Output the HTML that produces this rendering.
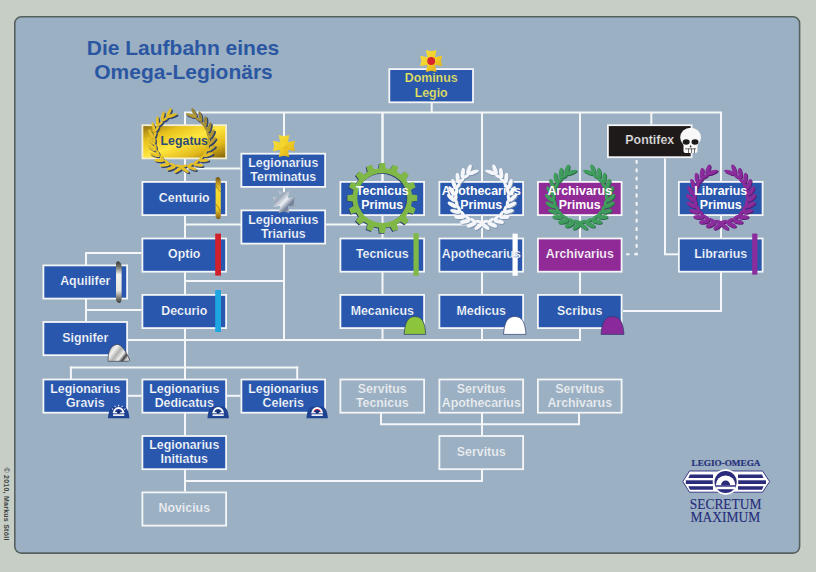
<!DOCTYPE html><html><head><meta charset="utf-8"><style>
html,body{margin:0;padding:0;background:#c6cec5;width:816px;height:572px;overflow:hidden}
svg{display:block}
text{font-family:"Liberation Sans",sans-serif;font-weight:bold;text-anchor:middle}
</style></head><body>
<svg width="816" height="572" viewBox="0 0 816 572">
<defs>
<linearGradient id="gold" x1="0" y1="0" x2="1" y2="1">
<stop offset="0" stop-color="#8a6a10"/><stop offset="0.25" stop-color="#e8c21c"/><stop offset="0.5" stop-color="#ffe640"/><stop offset="0.75" stop-color="#e0b81a"/><stop offset="1" stop-color="#7a5a0a"/>
</linearGradient>
<linearGradient id="goldbar" x1="0" y1="0" x2="0" y2="1">
<stop offset="0" stop-color="#6a5018"/><stop offset="0.12" stop-color="#b08a20"/><stop offset="0.3" stop-color="#f6dc30"/><stop offset="0.75" stop-color="#f0d028"/><stop offset="0.88" stop-color="#b89020"/><stop offset="1" stop-color="#7a5a18"/>
</linearGradient>
<linearGradient id="silverbar" x1="0" y1="0" x2="0" y2="1">
<stop offset="0" stop-color="#3a3a38"/><stop offset="0.14" stop-color="#787670"/><stop offset="0.32" stop-color="#f4f2ee"/><stop offset="0.7" stop-color="#e8e6e0"/><stop offset="0.86" stop-color="#8a8680"/><stop offset="1" stop-color="#3a3a38"/>
</linearGradient>
<linearGradient id="silverdome" x1="0" y1="0" x2="1" y2="0.6">
<stop offset="0" stop-color="#9a9a98"/><stop offset="0.35" stop-color="#f2f2f0"/><stop offset="0.55" stop-color="#b0b0ae"/><stop offset="0.75" stop-color="#f0f0ee"/><stop offset="0.9" stop-color="#404040"/><stop offset="1" stop-color="#d0d0d0"/>
</linearGradient>
<linearGradient id="silvercross" gradientUnits="userSpaceOnUse" x1="273" y1="191" x2="295" y2="213">
<stop offset="0" stop-color="#f4f6f8"/><stop offset="0.3" stop-color="#9aa6b8"/><stop offset="0.5" stop-color="#eef0f4"/><stop offset="0.7" stop-color="#6c7c94"/><stop offset="1" stop-color="#dfe4ea"/>
</linearGradient>
<linearGradient id="goldwreath" gradientUnits="userSpaceOnUse" x1="150" y1="172" x2="216" y2="106">
<stop offset="0" stop-color="#e8c42a"/><stop offset="0.6" stop-color="#e2bc28"/><stop offset="0.85" stop-color="#8a7a3a"/><stop offset="1" stop-color="#4a4a3a"/>
</linearGradient>
<linearGradient id="goldcross" x1="0" y1="0" x2="1" y2="1">
<stop offset="0" stop-color="#f6e040"/><stop offset="0.5" stop-color="#f2d028"/><stop offset="1" stop-color="#d8a818"/>
</linearGradient>
</defs>
<rect width="816" height="572" fill="#c6cec5"/>
<rect x="14.8" y="16.8" width="784.8" height="536.3" rx="6.5" ry="6.5" fill="#9bb0c3" stroke="#56615f" stroke-width="1.6"/>

<text x="183" y="55" font-size="21" fill="#2b56a2">Die Laufbahn eines</text>
<text x="183.5" y="79" font-size="21" fill="#2b56a2">Omega-Legionärs</text>
<line x1="184" y1="112.5" x2="722" y2="112.5" stroke="#f4f6f8" stroke-width="2.0" />
<line x1="185" y1="112.5" x2="185" y2="124.5" stroke="#f4f6f8" stroke-width="2.0" />
<line x1="284" y1="112.5" x2="284" y2="153" stroke="#f4f6f8" stroke-width="2.0" />
<line x1="382.5" y1="112.5" x2="382.5" y2="181.2" stroke="#f4f6f8" stroke-width="2.0" />
<line x1="482" y1="112.5" x2="482" y2="181.2" stroke="#f4f6f8" stroke-width="2.0" />
<line x1="580" y1="112.5" x2="580" y2="181.2" stroke="#f4f6f8" stroke-width="2.0" />
<line x1="651.3" y1="112.5" x2="651.3" y2="124.5" stroke="#f4f6f8" stroke-width="2.0" />
<line x1="721" y1="112.5" x2="721" y2="181.2" stroke="#f4f6f8" stroke-width="2.0" />
<line x1="431.7" y1="102.7" x2="431.7" y2="112.5" stroke="#f4f6f8" stroke-width="2.0" />
<line x1="185" y1="112.5" x2="185" y2="491.6" stroke="#f4f6f8" stroke-width="2.0" />
<line x1="185" y1="168.5" x2="240.5" y2="168.5" stroke="#f4f6f8" stroke-width="2.0" />
<line x1="284" y1="112.5" x2="284" y2="340" stroke="#f4f6f8" stroke-width="2.0" />
<line x1="185" y1="224.5" x2="482" y2="224.5" stroke="#f4f6f8" stroke-width="2.0" />
<line x1="382.5" y1="112.5" x2="382.5" y2="340" stroke="#f4f6f8" stroke-width="2.0" />
<line x1="482" y1="112.5" x2="482" y2="340" stroke="#f4f6f8" stroke-width="2.0" />
<line x1="580" y1="112.5" x2="580" y2="340" stroke="#f4f6f8" stroke-width="2.0" />
<line x1="127.5" y1="340" x2="581" y2="340" stroke="#f4f6f8" stroke-width="2.0" />
<line x1="721" y1="112.5" x2="721" y2="312" stroke="#f4f6f8" stroke-width="2.0" />
<line x1="623" y1="311" x2="722" y2="311" stroke="#f4f6f8" stroke-width="2.0" />
<line x1="665" y1="158.5" x2="665" y2="254.3" stroke="#f4f6f8" stroke-width="2.0" />
<line x1="664" y1="254.3" x2="678" y2="254.3" stroke="#f4f6f8" stroke-width="2.0" />
<line x1="636.6" y1="160" x2="636.6" y2="255.3" stroke="#f4f6f8" stroke-width="2.0" stroke-dasharray="3.8 4.6"/>
<line x1="637.6" y1="254.3" x2="623" y2="254.3" stroke="#f4f6f8" stroke-width="2.0" stroke-dasharray="3.4 4.6"/>
<line x1="86" y1="252" x2="86" y2="321.3" stroke="#f4f6f8" stroke-width="2.0" />
<line x1="85" y1="253" x2="141.5" y2="253" stroke="#f4f6f8" stroke-width="2.0" />
<line x1="86" y1="310" x2="141.5" y2="310" stroke="#f4f6f8" stroke-width="2.0" />
<line x1="185" y1="281" x2="284" y2="281" stroke="#f4f6f8" stroke-width="2.0" />
<line x1="70.9" y1="366.4" x2="70.9" y2="379" stroke="#f4f6f8" stroke-width="2.0" />
<line x1="69.9" y1="367.4" x2="298.2" y2="367.4" stroke="#f4f6f8" stroke-width="2.0" />
<line x1="297.2" y1="366.4" x2="297.2" y2="379" stroke="#f4f6f8" stroke-width="2.0" />
<line x1="127.5" y1="395.8" x2="141.5" y2="395.8" stroke="#f4f6f8" stroke-width="2.0" />
<line x1="227" y1="395.8" x2="240.5" y2="395.8" stroke="#f4f6f8" stroke-width="2.0" />
<line x1="381" y1="413" x2="381" y2="424.3" stroke="#f4f6f8" stroke-width="2.0" />
<line x1="482" y1="413" x2="482" y2="435.2" stroke="#f4f6f8" stroke-width="2.0" />
<line x1="579" y1="413" x2="579" y2="424.3" stroke="#f4f6f8" stroke-width="2.0" />
<line x1="380" y1="424.3" x2="580" y2="424.3" stroke="#f4f6f8" stroke-width="2.0" />
<line x1="482" y1="469.5" x2="482" y2="481" stroke="#f4f6f8" stroke-width="2.0" />
<line x1="185" y1="481" x2="483" y2="481" stroke="#f4f6f8" stroke-width="2.0" />
<rect x="142.40" y="181.90" width="83.70" height="33.20" fill="#2957ad" stroke="#f4f6f8" stroke-width="1.8"/>
<rect x="142.40" y="238.50" width="83.70" height="33.20" fill="#2957ad" stroke="#f4f6f8" stroke-width="1.8"/>
<rect x="142.40" y="294.90" width="83.70" height="33.20" fill="#2957ad" stroke="#f4f6f8" stroke-width="1.8"/>
<rect x="43.40" y="265.40" width="83.70" height="33.20" fill="#2957ad" stroke="#f4f6f8" stroke-width="1.8"/>
<rect x="43.40" y="322.00" width="83.70" height="33.20" fill="#2957ad" stroke="#f4f6f8" stroke-width="1.8"/>
<rect x="241.40" y="153.70" width="83.70" height="33.20" fill="#2957ad" stroke="#f4f6f8" stroke-width="1.8"/>
<rect x="241.40" y="210.40" width="83.70" height="33.20" fill="#2957ad" stroke="#f4f6f8" stroke-width="1.8"/>
<rect x="340.40" y="181.90" width="83.70" height="33.20" fill="#2957ad" stroke="#f4f6f8" stroke-width="1.8"/>
<rect x="340.40" y="238.50" width="83.70" height="33.20" fill="#2957ad" stroke="#f4f6f8" stroke-width="1.8"/>
<rect x="340.40" y="294.90" width="83.70" height="33.20" fill="#2957ad" stroke="#f4f6f8" stroke-width="1.8"/>
<rect x="439.40" y="181.90" width="83.70" height="33.20" fill="#2957ad" stroke="#f4f6f8" stroke-width="1.8"/>
<rect x="439.40" y="238.50" width="83.70" height="33.20" fill="#2957ad" stroke="#f4f6f8" stroke-width="1.8"/>
<rect x="439.40" y="294.90" width="83.70" height="33.20" fill="#2957ad" stroke="#f4f6f8" stroke-width="1.8"/>
<rect x="537.90" y="294.90" width="83.70" height="33.20" fill="#2957ad" stroke="#f4f6f8" stroke-width="1.8"/>
<rect x="678.90" y="181.90" width="83.70" height="33.20" fill="#2957ad" stroke="#f4f6f8" stroke-width="1.8"/>
<rect x="678.90" y="238.50" width="83.70" height="33.20" fill="#2957ad" stroke="#f4f6f8" stroke-width="1.8"/>
<rect x="43.40" y="379.50" width="83.70" height="33.20" fill="#2957ad" stroke="#f4f6f8" stroke-width="1.8"/>
<rect x="142.40" y="379.50" width="83.70" height="33.20" fill="#2957ad" stroke="#f4f6f8" stroke-width="1.8"/>
<rect x="241.40" y="379.50" width="83.70" height="33.20" fill="#2957ad" stroke="#f4f6f8" stroke-width="1.8"/>
<rect x="142.40" y="436.00" width="83.70" height="33.20" fill="#2957ad" stroke="#f4f6f8" stroke-width="1.8"/>
<rect x="537.90" y="181.90" width="83.70" height="33.20" fill="#8f2a96" stroke="#f4f6f8" stroke-width="1.8"/>
<rect x="537.90" y="238.50" width="83.70" height="33.20" fill="#8f2a96" stroke="#f4f6f8" stroke-width="1.8"/>
<rect x="607.90" y="125.20" width="83.70" height="32.00" fill="#1e1a1a" stroke="#f4f6f8" stroke-width="1.8"/>
<rect x="142.40" y="125.20" width="83.70" height="33.20" fill="url(#gold)" stroke="#f4eed0" stroke-width="1.8"/>
<rect x="340.40" y="379.50" width="83.70" height="33.20" fill="none" stroke="#f4f6f8" stroke-width="1.8"/>
<rect x="439.40" y="379.50" width="83.70" height="33.20" fill="none" stroke="#f4f6f8" stroke-width="1.8"/>
<rect x="537.90" y="379.50" width="83.70" height="33.20" fill="none" stroke="#f4f6f8" stroke-width="1.8"/>
<rect x="439.40" y="436.00" width="83.70" height="33.20" fill="none" stroke="#f4f6f8" stroke-width="1.8"/>
<rect x="142.40" y="492.40" width="83.70" height="33.20" fill="none" stroke="#f4f6f8" stroke-width="1.8"/>
<rect x="389.30" y="69.10" width="83.70" height="33.20" fill="#2957ad" stroke="#f4f6f8" stroke-width="1.8"/>
<path d="M375.69,169.57 L378.00,169.21 L378.75,163.91 L384.25,163.91 L385.00,169.21 L387.31,169.57 L389.59,170.12 L392.32,165.51 L397.39,167.61 L396.06,172.80 L398.06,174.02 L399.95,175.40 L404.23,172.19 L408.11,176.07 L404.90,180.35 L406.28,182.24 L407.50,184.24 L412.69,182.91 L414.79,187.98 L410.18,190.71 L410.73,192.99 L411.09,195.30 L416.39,196.05 L416.39,201.55 L411.09,202.30 L410.73,204.61 L410.18,206.89 L414.79,209.62 L412.69,214.69 L407.50,213.36 L406.28,215.36 L404.90,217.25 L408.11,221.53 L404.23,225.41 L399.95,222.20 L398.06,223.58 L396.06,224.80 L397.39,229.99 L392.32,232.09 L389.59,227.48 L387.31,228.03 L385.00,228.39 L384.25,233.69 L378.75,233.69 L378.00,228.39 L375.69,228.03 L373.41,227.48 L370.68,232.09 L365.61,229.99 L366.94,224.80 L364.94,223.58 L363.05,222.20 L358.77,225.41 L354.89,221.53 L358.10,217.25 L356.72,215.36 L355.50,213.36 L350.31,214.69 L348.21,209.62 L352.82,206.89 L352.27,204.61 L351.91,202.30 L346.61,201.55 L346.61,196.05 L351.91,195.30 L352.27,192.99 L352.82,190.71 L348.21,187.98 L350.31,182.91 L355.50,184.24 L356.72,182.24 L358.10,180.35 L354.89,176.07 L358.77,172.19 L363.05,175.40 L364.94,174.02 L366.94,172.80 L365.61,167.61 L370.68,165.51 L373.41,170.12Z M356.50,198.80 a25.0,25.0 0 1,0 50.00,0 a25.0,25.0 0 1,0 -50.00,0Z" fill="#2e4070" fill-rule="evenodd"/>
<path d="M376.49,168.77 L378.80,168.41 L379.55,163.11 L385.05,163.11 L385.80,168.41 L388.11,168.77 L390.39,169.32 L393.12,164.71 L398.19,166.81 L396.86,172.00 L398.86,173.22 L400.75,174.60 L405.03,171.39 L408.91,175.27 L405.70,179.55 L407.08,181.44 L408.30,183.44 L413.49,182.11 L415.59,187.18 L410.98,189.91 L411.53,192.19 L411.89,194.50 L417.19,195.25 L417.19,200.75 L411.89,201.50 L411.53,203.81 L410.98,206.09 L415.59,208.82 L413.49,213.89 L408.30,212.56 L407.08,214.56 L405.70,216.45 L408.91,220.73 L405.03,224.61 L400.75,221.40 L398.86,222.78 L396.86,224.00 L398.19,229.19 L393.12,231.29 L390.39,226.68 L388.11,227.23 L385.80,227.59 L385.05,232.89 L379.55,232.89 L378.80,227.59 L376.49,227.23 L374.21,226.68 L371.48,231.29 L366.41,229.19 L367.74,224.00 L365.74,222.78 L363.85,221.40 L359.57,224.61 L355.69,220.73 L358.90,216.45 L357.52,214.56 L356.30,212.56 L351.11,213.89 L349.01,208.82 L353.62,206.09 L353.07,203.81 L352.71,201.50 L347.41,200.75 L347.41,195.25 L352.71,194.50 L353.07,192.19 L353.62,189.91 L349.01,187.18 L351.11,182.11 L356.30,183.44 L357.52,181.44 L358.90,179.55 L355.69,175.27 L359.57,171.39 L363.85,174.60 L365.74,173.22 L367.74,172.00 L366.41,166.81 L371.48,164.71 L374.21,169.32Z M357.30,198.00 a25.0,25.0 0 1,0 50.00,0 a25.0,25.0 0 1,0 -50.00,0Z" fill="#80b848" fill-rule="evenodd"/>
<g fill="#7f93b0"><ellipse cx="469.79" cy="170.31" rx="5.25" ry="2.00" transform="rotate(-68.0 469.79 170.31)"/><ellipse cx="471.49" cy="174.39" rx="3.75" ry="1.60" transform="rotate(-12.0 471.49 174.39)"/><ellipse cx="463.61" cy="173.98" rx="5.25" ry="2.00" transform="rotate(-81.5 463.61 173.98)"/><ellipse cx="466.22" cy="177.56" rx="3.75" ry="1.60" transform="rotate(-25.5 466.22 177.56)"/><ellipse cx="458.49" cy="178.96" rx="5.25" ry="2.00" transform="rotate(-95.2 458.49 178.96)"/><ellipse cx="461.87" cy="181.82" rx="3.75" ry="1.60" transform="rotate(-39.2 461.87 181.82)"/><ellipse cx="454.70" cy="184.97" rx="5.25" ry="2.00" transform="rotate(-109.1 454.70 184.97)"/><ellipse cx="458.67" cy="186.94" rx="3.75" ry="1.60" transform="rotate(-53.1 458.67 186.94)"/><ellipse cx="452.47" cy="191.70" rx="5.25" ry="2.00" transform="rotate(-123.1 452.47 191.70)"/><ellipse cx="456.79" cy="192.64" rx="3.75" ry="1.60" transform="rotate(-67.1 456.79 192.64)"/><ellipse cx="451.93" cy="198.76" rx="5.25" ry="2.00" transform="rotate(-137.1 451.93 198.76)"/><ellipse cx="456.36" cy="198.63" rx="3.75" ry="1.60" transform="rotate(-81.1 456.36 198.63)"/><ellipse cx="453.14" cy="205.75" rx="5.25" ry="2.00" transform="rotate(-151.1 453.14 205.75)"/><ellipse cx="457.40" cy="204.56" rx="3.75" ry="1.60" transform="rotate(-95.1 457.40 204.56)"/><ellipse cx="456.01" cy="212.28" rx="5.25" ry="2.00" transform="rotate(-164.9 456.01 212.28)"/><ellipse cx="459.86" cy="210.10" rx="3.75" ry="1.60" transform="rotate(-108.9 459.86 210.10)"/><ellipse cx="460.38" cy="217.95" rx="5.25" ry="2.00" transform="rotate(-178.4 460.38 217.95)"/><ellipse cx="463.62" cy="214.93" rx="3.75" ry="1.60" transform="rotate(-122.4 463.62 214.93)"/><ellipse cx="466.00" cy="222.47" rx="5.25" ry="2.00" transform="rotate(-191.7 466.00 222.47)"/><ellipse cx="468.45" cy="218.78" rx="3.75" ry="1.60" transform="rotate(-135.7 468.45 218.78)"/><ellipse cx="472.53" cy="225.57" rx="5.25" ry="2.00" transform="rotate(-204.9 472.53 225.57)"/><ellipse cx="474.09" cy="221.42" rx="3.75" ry="1.60" transform="rotate(-148.9 474.09 221.42)"/><ellipse cx="479.62" cy="227.11" rx="5.25" ry="2.00" transform="rotate(142.1 479.62 227.11)"/><ellipse cx="480.19" cy="222.72" rx="3.75" ry="1.60" transform="rotate(198.1 480.19 222.72)"/><ellipse cx="473.77" cy="173.24" rx="6.25" ry="2.00" transform="rotate(-18.0 473.77 173.24)"/><ellipse cx="495.81" cy="170.31" rx="5.25" ry="2.00" transform="rotate(-112.0 495.81 170.31)"/><ellipse cx="494.11" cy="174.39" rx="3.75" ry="1.60" transform="rotate(-168.0 494.11 174.39)"/><ellipse cx="501.99" cy="173.98" rx="5.25" ry="2.00" transform="rotate(-98.5 501.99 173.98)"/><ellipse cx="499.38" cy="177.56" rx="3.75" ry="1.60" transform="rotate(-154.5 499.38 177.56)"/><ellipse cx="507.11" cy="178.96" rx="5.25" ry="2.00" transform="rotate(-84.8 507.11 178.96)"/><ellipse cx="503.73" cy="181.82" rx="3.75" ry="1.60" transform="rotate(-140.8 503.73 181.82)"/><ellipse cx="510.90" cy="184.97" rx="5.25" ry="2.00" transform="rotate(-70.9 510.90 184.97)"/><ellipse cx="506.93" cy="186.94" rx="3.75" ry="1.60" transform="rotate(-126.9 506.93 186.94)"/><ellipse cx="513.13" cy="191.70" rx="5.25" ry="2.00" transform="rotate(-56.9 513.13 191.70)"/><ellipse cx="508.81" cy="192.64" rx="3.75" ry="1.60" transform="rotate(-112.9 508.81 192.64)"/><ellipse cx="513.67" cy="198.76" rx="5.25" ry="2.00" transform="rotate(-42.9 513.67 198.76)"/><ellipse cx="509.24" cy="198.63" rx="3.75" ry="1.60" transform="rotate(-98.9 509.24 198.63)"/><ellipse cx="512.46" cy="205.75" rx="5.25" ry="2.00" transform="rotate(-28.9 512.46 205.75)"/><ellipse cx="508.20" cy="204.56" rx="3.75" ry="1.60" transform="rotate(-84.9 508.20 204.56)"/><ellipse cx="509.59" cy="212.28" rx="5.25" ry="2.00" transform="rotate(-15.1 509.59 212.28)"/><ellipse cx="505.74" cy="210.10" rx="3.75" ry="1.60" transform="rotate(-71.1 505.74 210.10)"/><ellipse cx="505.22" cy="217.95" rx="5.25" ry="2.00" transform="rotate(-1.6 505.22 217.95)"/><ellipse cx="501.98" cy="214.93" rx="3.75" ry="1.60" transform="rotate(-57.6 501.98 214.93)"/><ellipse cx="499.60" cy="222.47" rx="5.25" ry="2.00" transform="rotate(11.7 499.60 222.47)"/><ellipse cx="497.15" cy="218.78" rx="3.75" ry="1.60" transform="rotate(-44.3 497.15 218.78)"/><ellipse cx="493.07" cy="225.57" rx="5.25" ry="2.00" transform="rotate(24.9 493.07 225.57)"/><ellipse cx="491.51" cy="221.42" rx="3.75" ry="1.60" transform="rotate(-31.1 491.51 221.42)"/><ellipse cx="485.98" cy="227.11" rx="5.25" ry="2.00" transform="rotate(37.9 485.98 227.11)"/><ellipse cx="485.41" cy="222.72" rx="3.75" ry="1.60" transform="rotate(-18.1 485.41 222.72)"/><ellipse cx="491.83" cy="173.24" rx="6.25" ry="2.00" transform="rotate(-162.0 491.83 173.24)"/></g><g fill="#f4f6fa"><ellipse cx="468.99" cy="169.41" rx="5.25" ry="2.00" transform="rotate(-68.0 468.99 169.41)"/><ellipse cx="470.69" cy="173.49" rx="3.75" ry="1.60" transform="rotate(-12.0 470.69 173.49)"/><ellipse cx="462.81" cy="173.08" rx="5.25" ry="2.00" transform="rotate(-81.5 462.81 173.08)"/><ellipse cx="465.42" cy="176.66" rx="3.75" ry="1.60" transform="rotate(-25.5 465.42 176.66)"/><ellipse cx="457.69" cy="178.06" rx="5.25" ry="2.00" transform="rotate(-95.2 457.69 178.06)"/><ellipse cx="461.07" cy="180.92" rx="3.75" ry="1.60" transform="rotate(-39.2 461.07 180.92)"/><ellipse cx="453.90" cy="184.07" rx="5.25" ry="2.00" transform="rotate(-109.1 453.90 184.07)"/><ellipse cx="457.87" cy="186.04" rx="3.75" ry="1.60" transform="rotate(-53.1 457.87 186.04)"/><ellipse cx="451.67" cy="190.80" rx="5.25" ry="2.00" transform="rotate(-123.1 451.67 190.80)"/><ellipse cx="455.99" cy="191.74" rx="3.75" ry="1.60" transform="rotate(-67.1 455.99 191.74)"/><ellipse cx="451.13" cy="197.86" rx="5.25" ry="2.00" transform="rotate(-137.1 451.13 197.86)"/><ellipse cx="455.56" cy="197.73" rx="3.75" ry="1.60" transform="rotate(-81.1 455.56 197.73)"/><ellipse cx="452.34" cy="204.85" rx="5.25" ry="2.00" transform="rotate(-151.1 452.34 204.85)"/><ellipse cx="456.60" cy="203.66" rx="3.75" ry="1.60" transform="rotate(-95.1 456.60 203.66)"/><ellipse cx="455.21" cy="211.38" rx="5.25" ry="2.00" transform="rotate(-164.9 455.21 211.38)"/><ellipse cx="459.06" cy="209.20" rx="3.75" ry="1.60" transform="rotate(-108.9 459.06 209.20)"/><ellipse cx="459.58" cy="217.05" rx="5.25" ry="2.00" transform="rotate(-178.4 459.58 217.05)"/><ellipse cx="462.82" cy="214.03" rx="3.75" ry="1.60" transform="rotate(-122.4 462.82 214.03)"/><ellipse cx="465.20" cy="221.57" rx="5.25" ry="2.00" transform="rotate(-191.7 465.20 221.57)"/><ellipse cx="467.65" cy="217.88" rx="3.75" ry="1.60" transform="rotate(-135.7 467.65 217.88)"/><ellipse cx="471.73" cy="224.67" rx="5.25" ry="2.00" transform="rotate(-204.9 471.73 224.67)"/><ellipse cx="473.29" cy="220.52" rx="3.75" ry="1.60" transform="rotate(-148.9 473.29 220.52)"/><ellipse cx="478.82" cy="226.21" rx="5.25" ry="2.00" transform="rotate(142.1 478.82 226.21)"/><ellipse cx="479.39" cy="221.82" rx="3.75" ry="1.60" transform="rotate(198.1 479.39 221.82)"/><ellipse cx="472.97" cy="172.34" rx="6.25" ry="2.00" transform="rotate(-18.0 472.97 172.34)"/><ellipse cx="495.01" cy="169.41" rx="5.25" ry="2.00" transform="rotate(-112.0 495.01 169.41)"/><ellipse cx="493.31" cy="173.49" rx="3.75" ry="1.60" transform="rotate(-168.0 493.31 173.49)"/><ellipse cx="501.19" cy="173.08" rx="5.25" ry="2.00" transform="rotate(-98.5 501.19 173.08)"/><ellipse cx="498.58" cy="176.66" rx="3.75" ry="1.60" transform="rotate(-154.5 498.58 176.66)"/><ellipse cx="506.31" cy="178.06" rx="5.25" ry="2.00" transform="rotate(-84.8 506.31 178.06)"/><ellipse cx="502.93" cy="180.92" rx="3.75" ry="1.60" transform="rotate(-140.8 502.93 180.92)"/><ellipse cx="510.10" cy="184.07" rx="5.25" ry="2.00" transform="rotate(-70.9 510.10 184.07)"/><ellipse cx="506.13" cy="186.04" rx="3.75" ry="1.60" transform="rotate(-126.9 506.13 186.04)"/><ellipse cx="512.33" cy="190.80" rx="5.25" ry="2.00" transform="rotate(-56.9 512.33 190.80)"/><ellipse cx="508.01" cy="191.74" rx="3.75" ry="1.60" transform="rotate(-112.9 508.01 191.74)"/><ellipse cx="512.87" cy="197.86" rx="5.25" ry="2.00" transform="rotate(-42.9 512.87 197.86)"/><ellipse cx="508.44" cy="197.73" rx="3.75" ry="1.60" transform="rotate(-98.9 508.44 197.73)"/><ellipse cx="511.66" cy="204.85" rx="5.25" ry="2.00" transform="rotate(-28.9 511.66 204.85)"/><ellipse cx="507.40" cy="203.66" rx="3.75" ry="1.60" transform="rotate(-84.9 507.40 203.66)"/><ellipse cx="508.79" cy="211.38" rx="5.25" ry="2.00" transform="rotate(-15.1 508.79 211.38)"/><ellipse cx="504.94" cy="209.20" rx="3.75" ry="1.60" transform="rotate(-71.1 504.94 209.20)"/><ellipse cx="504.42" cy="217.05" rx="5.25" ry="2.00" transform="rotate(-1.6 504.42 217.05)"/><ellipse cx="501.18" cy="214.03" rx="3.75" ry="1.60" transform="rotate(-57.6 501.18 214.03)"/><ellipse cx="498.80" cy="221.57" rx="5.25" ry="2.00" transform="rotate(11.7 498.80 221.57)"/><ellipse cx="496.35" cy="217.88" rx="3.75" ry="1.60" transform="rotate(-44.3 496.35 217.88)"/><ellipse cx="492.27" cy="224.67" rx="5.25" ry="2.00" transform="rotate(24.9 492.27 224.67)"/><ellipse cx="490.71" cy="220.52" rx="3.75" ry="1.60" transform="rotate(-31.1 490.71 220.52)"/><ellipse cx="485.18" cy="226.21" rx="5.25" ry="2.00" transform="rotate(37.9 485.18 226.21)"/><ellipse cx="484.61" cy="221.82" rx="3.75" ry="1.60" transform="rotate(-18.1 484.61 221.82)"/><ellipse cx="491.03" cy="172.34" rx="6.25" ry="2.00" transform="rotate(-162.0 491.03 172.34)"/></g>
<g fill="#2a6a48"><ellipse cx="567.79" cy="170.31" rx="5.25" ry="2.00" transform="rotate(-68.0 567.79 170.31)"/><ellipse cx="569.49" cy="174.39" rx="3.75" ry="1.60" transform="rotate(-12.0 569.49 174.39)"/><ellipse cx="561.61" cy="173.98" rx="5.25" ry="2.00" transform="rotate(-81.5 561.61 173.98)"/><ellipse cx="564.22" cy="177.56" rx="3.75" ry="1.60" transform="rotate(-25.5 564.22 177.56)"/><ellipse cx="556.49" cy="178.96" rx="5.25" ry="2.00" transform="rotate(-95.2 556.49 178.96)"/><ellipse cx="559.87" cy="181.82" rx="3.75" ry="1.60" transform="rotate(-39.2 559.87 181.82)"/><ellipse cx="552.70" cy="184.97" rx="5.25" ry="2.00" transform="rotate(-109.1 552.70 184.97)"/><ellipse cx="556.67" cy="186.94" rx="3.75" ry="1.60" transform="rotate(-53.1 556.67 186.94)"/><ellipse cx="550.47" cy="191.70" rx="5.25" ry="2.00" transform="rotate(-123.1 550.47 191.70)"/><ellipse cx="554.79" cy="192.64" rx="3.75" ry="1.60" transform="rotate(-67.1 554.79 192.64)"/><ellipse cx="549.93" cy="198.76" rx="5.25" ry="2.00" transform="rotate(-137.1 549.93 198.76)"/><ellipse cx="554.36" cy="198.63" rx="3.75" ry="1.60" transform="rotate(-81.1 554.36 198.63)"/><ellipse cx="551.14" cy="205.75" rx="5.25" ry="2.00" transform="rotate(-151.1 551.14 205.75)"/><ellipse cx="555.40" cy="204.56" rx="3.75" ry="1.60" transform="rotate(-95.1 555.40 204.56)"/><ellipse cx="554.01" cy="212.28" rx="5.25" ry="2.00" transform="rotate(-164.9 554.01 212.28)"/><ellipse cx="557.86" cy="210.10" rx="3.75" ry="1.60" transform="rotate(-108.9 557.86 210.10)"/><ellipse cx="558.38" cy="217.95" rx="5.25" ry="2.00" transform="rotate(-178.4 558.38 217.95)"/><ellipse cx="561.62" cy="214.93" rx="3.75" ry="1.60" transform="rotate(-122.4 561.62 214.93)"/><ellipse cx="564.00" cy="222.47" rx="5.25" ry="2.00" transform="rotate(-191.7 564.00 222.47)"/><ellipse cx="566.45" cy="218.78" rx="3.75" ry="1.60" transform="rotate(-135.7 566.45 218.78)"/><ellipse cx="570.53" cy="225.57" rx="5.25" ry="2.00" transform="rotate(-204.9 570.53 225.57)"/><ellipse cx="572.09" cy="221.42" rx="3.75" ry="1.60" transform="rotate(-148.9 572.09 221.42)"/><ellipse cx="577.62" cy="227.11" rx="5.25" ry="2.00" transform="rotate(142.1 577.62 227.11)"/><ellipse cx="578.19" cy="222.72" rx="3.75" ry="1.60" transform="rotate(198.1 578.19 222.72)"/><ellipse cx="571.77" cy="173.24" rx="6.25" ry="2.00" transform="rotate(-18.0 571.77 173.24)"/><ellipse cx="593.81" cy="170.31" rx="5.25" ry="2.00" transform="rotate(-112.0 593.81 170.31)"/><ellipse cx="592.11" cy="174.39" rx="3.75" ry="1.60" transform="rotate(-168.0 592.11 174.39)"/><ellipse cx="599.99" cy="173.98" rx="5.25" ry="2.00" transform="rotate(-98.5 599.99 173.98)"/><ellipse cx="597.38" cy="177.56" rx="3.75" ry="1.60" transform="rotate(-154.5 597.38 177.56)"/><ellipse cx="605.11" cy="178.96" rx="5.25" ry="2.00" transform="rotate(-84.8 605.11 178.96)"/><ellipse cx="601.73" cy="181.82" rx="3.75" ry="1.60" transform="rotate(-140.8 601.73 181.82)"/><ellipse cx="608.90" cy="184.97" rx="5.25" ry="2.00" transform="rotate(-70.9 608.90 184.97)"/><ellipse cx="604.93" cy="186.94" rx="3.75" ry="1.60" transform="rotate(-126.9 604.93 186.94)"/><ellipse cx="611.13" cy="191.70" rx="5.25" ry="2.00" transform="rotate(-56.9 611.13 191.70)"/><ellipse cx="606.81" cy="192.64" rx="3.75" ry="1.60" transform="rotate(-112.9 606.81 192.64)"/><ellipse cx="611.67" cy="198.76" rx="5.25" ry="2.00" transform="rotate(-42.9 611.67 198.76)"/><ellipse cx="607.24" cy="198.63" rx="3.75" ry="1.60" transform="rotate(-98.9 607.24 198.63)"/><ellipse cx="610.46" cy="205.75" rx="5.25" ry="2.00" transform="rotate(-28.9 610.46 205.75)"/><ellipse cx="606.20" cy="204.56" rx="3.75" ry="1.60" transform="rotate(-84.9 606.20 204.56)"/><ellipse cx="607.59" cy="212.28" rx="5.25" ry="2.00" transform="rotate(-15.1 607.59 212.28)"/><ellipse cx="603.74" cy="210.10" rx="3.75" ry="1.60" transform="rotate(-71.1 603.74 210.10)"/><ellipse cx="603.22" cy="217.95" rx="5.25" ry="2.00" transform="rotate(-1.6 603.22 217.95)"/><ellipse cx="599.98" cy="214.93" rx="3.75" ry="1.60" transform="rotate(-57.6 599.98 214.93)"/><ellipse cx="597.60" cy="222.47" rx="5.25" ry="2.00" transform="rotate(11.7 597.60 222.47)"/><ellipse cx="595.15" cy="218.78" rx="3.75" ry="1.60" transform="rotate(-44.3 595.15 218.78)"/><ellipse cx="591.07" cy="225.57" rx="5.25" ry="2.00" transform="rotate(24.9 591.07 225.57)"/><ellipse cx="589.51" cy="221.42" rx="3.75" ry="1.60" transform="rotate(-31.1 589.51 221.42)"/><ellipse cx="583.98" cy="227.11" rx="5.25" ry="2.00" transform="rotate(37.9 583.98 227.11)"/><ellipse cx="583.41" cy="222.72" rx="3.75" ry="1.60" transform="rotate(-18.1 583.41 222.72)"/><ellipse cx="589.83" cy="173.24" rx="6.25" ry="2.00" transform="rotate(-162.0 589.83 173.24)"/></g><g fill="#3f9c5c"><ellipse cx="566.99" cy="169.41" rx="5.25" ry="2.00" transform="rotate(-68.0 566.99 169.41)"/><ellipse cx="568.69" cy="173.49" rx="3.75" ry="1.60" transform="rotate(-12.0 568.69 173.49)"/><ellipse cx="560.81" cy="173.08" rx="5.25" ry="2.00" transform="rotate(-81.5 560.81 173.08)"/><ellipse cx="563.42" cy="176.66" rx="3.75" ry="1.60" transform="rotate(-25.5 563.42 176.66)"/><ellipse cx="555.69" cy="178.06" rx="5.25" ry="2.00" transform="rotate(-95.2 555.69 178.06)"/><ellipse cx="559.07" cy="180.92" rx="3.75" ry="1.60" transform="rotate(-39.2 559.07 180.92)"/><ellipse cx="551.90" cy="184.07" rx="5.25" ry="2.00" transform="rotate(-109.1 551.90 184.07)"/><ellipse cx="555.87" cy="186.04" rx="3.75" ry="1.60" transform="rotate(-53.1 555.87 186.04)"/><ellipse cx="549.67" cy="190.80" rx="5.25" ry="2.00" transform="rotate(-123.1 549.67 190.80)"/><ellipse cx="553.99" cy="191.74" rx="3.75" ry="1.60" transform="rotate(-67.1 553.99 191.74)"/><ellipse cx="549.13" cy="197.86" rx="5.25" ry="2.00" transform="rotate(-137.1 549.13 197.86)"/><ellipse cx="553.56" cy="197.73" rx="3.75" ry="1.60" transform="rotate(-81.1 553.56 197.73)"/><ellipse cx="550.34" cy="204.85" rx="5.25" ry="2.00" transform="rotate(-151.1 550.34 204.85)"/><ellipse cx="554.60" cy="203.66" rx="3.75" ry="1.60" transform="rotate(-95.1 554.60 203.66)"/><ellipse cx="553.21" cy="211.38" rx="5.25" ry="2.00" transform="rotate(-164.9 553.21 211.38)"/><ellipse cx="557.06" cy="209.20" rx="3.75" ry="1.60" transform="rotate(-108.9 557.06 209.20)"/><ellipse cx="557.58" cy="217.05" rx="5.25" ry="2.00" transform="rotate(-178.4 557.58 217.05)"/><ellipse cx="560.82" cy="214.03" rx="3.75" ry="1.60" transform="rotate(-122.4 560.82 214.03)"/><ellipse cx="563.20" cy="221.57" rx="5.25" ry="2.00" transform="rotate(-191.7 563.20 221.57)"/><ellipse cx="565.65" cy="217.88" rx="3.75" ry="1.60" transform="rotate(-135.7 565.65 217.88)"/><ellipse cx="569.73" cy="224.67" rx="5.25" ry="2.00" transform="rotate(-204.9 569.73 224.67)"/><ellipse cx="571.29" cy="220.52" rx="3.75" ry="1.60" transform="rotate(-148.9 571.29 220.52)"/><ellipse cx="576.82" cy="226.21" rx="5.25" ry="2.00" transform="rotate(142.1 576.82 226.21)"/><ellipse cx="577.39" cy="221.82" rx="3.75" ry="1.60" transform="rotate(198.1 577.39 221.82)"/><ellipse cx="570.97" cy="172.34" rx="6.25" ry="2.00" transform="rotate(-18.0 570.97 172.34)"/><ellipse cx="593.01" cy="169.41" rx="5.25" ry="2.00" transform="rotate(-112.0 593.01 169.41)"/><ellipse cx="591.31" cy="173.49" rx="3.75" ry="1.60" transform="rotate(-168.0 591.31 173.49)"/><ellipse cx="599.19" cy="173.08" rx="5.25" ry="2.00" transform="rotate(-98.5 599.19 173.08)"/><ellipse cx="596.58" cy="176.66" rx="3.75" ry="1.60" transform="rotate(-154.5 596.58 176.66)"/><ellipse cx="604.31" cy="178.06" rx="5.25" ry="2.00" transform="rotate(-84.8 604.31 178.06)"/><ellipse cx="600.93" cy="180.92" rx="3.75" ry="1.60" transform="rotate(-140.8 600.93 180.92)"/><ellipse cx="608.10" cy="184.07" rx="5.25" ry="2.00" transform="rotate(-70.9 608.10 184.07)"/><ellipse cx="604.13" cy="186.04" rx="3.75" ry="1.60" transform="rotate(-126.9 604.13 186.04)"/><ellipse cx="610.33" cy="190.80" rx="5.25" ry="2.00" transform="rotate(-56.9 610.33 190.80)"/><ellipse cx="606.01" cy="191.74" rx="3.75" ry="1.60" transform="rotate(-112.9 606.01 191.74)"/><ellipse cx="610.87" cy="197.86" rx="5.25" ry="2.00" transform="rotate(-42.9 610.87 197.86)"/><ellipse cx="606.44" cy="197.73" rx="3.75" ry="1.60" transform="rotate(-98.9 606.44 197.73)"/><ellipse cx="609.66" cy="204.85" rx="5.25" ry="2.00" transform="rotate(-28.9 609.66 204.85)"/><ellipse cx="605.40" cy="203.66" rx="3.75" ry="1.60" transform="rotate(-84.9 605.40 203.66)"/><ellipse cx="606.79" cy="211.38" rx="5.25" ry="2.00" transform="rotate(-15.1 606.79 211.38)"/><ellipse cx="602.94" cy="209.20" rx="3.75" ry="1.60" transform="rotate(-71.1 602.94 209.20)"/><ellipse cx="602.42" cy="217.05" rx="5.25" ry="2.00" transform="rotate(-1.6 602.42 217.05)"/><ellipse cx="599.18" cy="214.03" rx="3.75" ry="1.60" transform="rotate(-57.6 599.18 214.03)"/><ellipse cx="596.80" cy="221.57" rx="5.25" ry="2.00" transform="rotate(11.7 596.80 221.57)"/><ellipse cx="594.35" cy="217.88" rx="3.75" ry="1.60" transform="rotate(-44.3 594.35 217.88)"/><ellipse cx="590.27" cy="224.67" rx="5.25" ry="2.00" transform="rotate(24.9 590.27 224.67)"/><ellipse cx="588.71" cy="220.52" rx="3.75" ry="1.60" transform="rotate(-31.1 588.71 220.52)"/><ellipse cx="583.18" cy="226.21" rx="5.25" ry="2.00" transform="rotate(37.9 583.18 226.21)"/><ellipse cx="582.61" cy="221.82" rx="3.75" ry="1.60" transform="rotate(-18.1 582.61 221.82)"/><ellipse cx="589.03" cy="172.34" rx="6.25" ry="2.00" transform="rotate(-162.0 589.03 172.34)"/></g>
<g fill="#5a1a70"><ellipse cx="708.79" cy="170.31" rx="5.25" ry="2.00" transform="rotate(-68.0 708.79 170.31)"/><ellipse cx="710.49" cy="174.39" rx="3.75" ry="1.60" transform="rotate(-12.0 710.49 174.39)"/><ellipse cx="702.61" cy="173.98" rx="5.25" ry="2.00" transform="rotate(-81.5 702.61 173.98)"/><ellipse cx="705.22" cy="177.56" rx="3.75" ry="1.60" transform="rotate(-25.5 705.22 177.56)"/><ellipse cx="697.49" cy="178.96" rx="5.25" ry="2.00" transform="rotate(-95.2 697.49 178.96)"/><ellipse cx="700.87" cy="181.82" rx="3.75" ry="1.60" transform="rotate(-39.2 700.87 181.82)"/><ellipse cx="693.70" cy="184.97" rx="5.25" ry="2.00" transform="rotate(-109.1 693.70 184.97)"/><ellipse cx="697.67" cy="186.94" rx="3.75" ry="1.60" transform="rotate(-53.1 697.67 186.94)"/><ellipse cx="691.47" cy="191.70" rx="5.25" ry="2.00" transform="rotate(-123.1 691.47 191.70)"/><ellipse cx="695.79" cy="192.64" rx="3.75" ry="1.60" transform="rotate(-67.1 695.79 192.64)"/><ellipse cx="690.93" cy="198.76" rx="5.25" ry="2.00" transform="rotate(-137.1 690.93 198.76)"/><ellipse cx="695.36" cy="198.63" rx="3.75" ry="1.60" transform="rotate(-81.1 695.36 198.63)"/><ellipse cx="692.14" cy="205.75" rx="5.25" ry="2.00" transform="rotate(-151.1 692.14 205.75)"/><ellipse cx="696.40" cy="204.56" rx="3.75" ry="1.60" transform="rotate(-95.1 696.40 204.56)"/><ellipse cx="695.01" cy="212.28" rx="5.25" ry="2.00" transform="rotate(-164.9 695.01 212.28)"/><ellipse cx="698.86" cy="210.10" rx="3.75" ry="1.60" transform="rotate(-108.9 698.86 210.10)"/><ellipse cx="699.38" cy="217.95" rx="5.25" ry="2.00" transform="rotate(-178.4 699.38 217.95)"/><ellipse cx="702.62" cy="214.93" rx="3.75" ry="1.60" transform="rotate(-122.4 702.62 214.93)"/><ellipse cx="705.00" cy="222.47" rx="5.25" ry="2.00" transform="rotate(-191.7 705.00 222.47)"/><ellipse cx="707.45" cy="218.78" rx="3.75" ry="1.60" transform="rotate(-135.7 707.45 218.78)"/><ellipse cx="711.53" cy="225.57" rx="5.25" ry="2.00" transform="rotate(-204.9 711.53 225.57)"/><ellipse cx="713.09" cy="221.42" rx="3.75" ry="1.60" transform="rotate(-148.9 713.09 221.42)"/><ellipse cx="718.62" cy="227.11" rx="5.25" ry="2.00" transform="rotate(142.1 718.62 227.11)"/><ellipse cx="719.19" cy="222.72" rx="3.75" ry="1.60" transform="rotate(198.1 719.19 222.72)"/><ellipse cx="712.77" cy="173.24" rx="6.25" ry="2.00" transform="rotate(-18.0 712.77 173.24)"/><ellipse cx="734.81" cy="170.31" rx="5.25" ry="2.00" transform="rotate(-112.0 734.81 170.31)"/><ellipse cx="733.11" cy="174.39" rx="3.75" ry="1.60" transform="rotate(-168.0 733.11 174.39)"/><ellipse cx="740.99" cy="173.98" rx="5.25" ry="2.00" transform="rotate(-98.5 740.99 173.98)"/><ellipse cx="738.38" cy="177.56" rx="3.75" ry="1.60" transform="rotate(-154.5 738.38 177.56)"/><ellipse cx="746.11" cy="178.96" rx="5.25" ry="2.00" transform="rotate(-84.8 746.11 178.96)"/><ellipse cx="742.73" cy="181.82" rx="3.75" ry="1.60" transform="rotate(-140.8 742.73 181.82)"/><ellipse cx="749.90" cy="184.97" rx="5.25" ry="2.00" transform="rotate(-70.9 749.90 184.97)"/><ellipse cx="745.93" cy="186.94" rx="3.75" ry="1.60" transform="rotate(-126.9 745.93 186.94)"/><ellipse cx="752.13" cy="191.70" rx="5.25" ry="2.00" transform="rotate(-56.9 752.13 191.70)"/><ellipse cx="747.81" cy="192.64" rx="3.75" ry="1.60" transform="rotate(-112.9 747.81 192.64)"/><ellipse cx="752.67" cy="198.76" rx="5.25" ry="2.00" transform="rotate(-42.9 752.67 198.76)"/><ellipse cx="748.24" cy="198.63" rx="3.75" ry="1.60" transform="rotate(-98.9 748.24 198.63)"/><ellipse cx="751.46" cy="205.75" rx="5.25" ry="2.00" transform="rotate(-28.9 751.46 205.75)"/><ellipse cx="747.20" cy="204.56" rx="3.75" ry="1.60" transform="rotate(-84.9 747.20 204.56)"/><ellipse cx="748.59" cy="212.28" rx="5.25" ry="2.00" transform="rotate(-15.1 748.59 212.28)"/><ellipse cx="744.74" cy="210.10" rx="3.75" ry="1.60" transform="rotate(-71.1 744.74 210.10)"/><ellipse cx="744.22" cy="217.95" rx="5.25" ry="2.00" transform="rotate(-1.6 744.22 217.95)"/><ellipse cx="740.98" cy="214.93" rx="3.75" ry="1.60" transform="rotate(-57.6 740.98 214.93)"/><ellipse cx="738.60" cy="222.47" rx="5.25" ry="2.00" transform="rotate(11.7 738.60 222.47)"/><ellipse cx="736.15" cy="218.78" rx="3.75" ry="1.60" transform="rotate(-44.3 736.15 218.78)"/><ellipse cx="732.07" cy="225.57" rx="5.25" ry="2.00" transform="rotate(24.9 732.07 225.57)"/><ellipse cx="730.51" cy="221.42" rx="3.75" ry="1.60" transform="rotate(-31.1 730.51 221.42)"/><ellipse cx="724.98" cy="227.11" rx="5.25" ry="2.00" transform="rotate(37.9 724.98 227.11)"/><ellipse cx="724.41" cy="222.72" rx="3.75" ry="1.60" transform="rotate(-18.1 724.41 222.72)"/><ellipse cx="730.83" cy="173.24" rx="6.25" ry="2.00" transform="rotate(-162.0 730.83 173.24)"/></g><g fill="#8a2c9c"><ellipse cx="707.99" cy="169.41" rx="5.25" ry="2.00" transform="rotate(-68.0 707.99 169.41)"/><ellipse cx="709.69" cy="173.49" rx="3.75" ry="1.60" transform="rotate(-12.0 709.69 173.49)"/><ellipse cx="701.81" cy="173.08" rx="5.25" ry="2.00" transform="rotate(-81.5 701.81 173.08)"/><ellipse cx="704.42" cy="176.66" rx="3.75" ry="1.60" transform="rotate(-25.5 704.42 176.66)"/><ellipse cx="696.69" cy="178.06" rx="5.25" ry="2.00" transform="rotate(-95.2 696.69 178.06)"/><ellipse cx="700.07" cy="180.92" rx="3.75" ry="1.60" transform="rotate(-39.2 700.07 180.92)"/><ellipse cx="692.90" cy="184.07" rx="5.25" ry="2.00" transform="rotate(-109.1 692.90 184.07)"/><ellipse cx="696.87" cy="186.04" rx="3.75" ry="1.60" transform="rotate(-53.1 696.87 186.04)"/><ellipse cx="690.67" cy="190.80" rx="5.25" ry="2.00" transform="rotate(-123.1 690.67 190.80)"/><ellipse cx="694.99" cy="191.74" rx="3.75" ry="1.60" transform="rotate(-67.1 694.99 191.74)"/><ellipse cx="690.13" cy="197.86" rx="5.25" ry="2.00" transform="rotate(-137.1 690.13 197.86)"/><ellipse cx="694.56" cy="197.73" rx="3.75" ry="1.60" transform="rotate(-81.1 694.56 197.73)"/><ellipse cx="691.34" cy="204.85" rx="5.25" ry="2.00" transform="rotate(-151.1 691.34 204.85)"/><ellipse cx="695.60" cy="203.66" rx="3.75" ry="1.60" transform="rotate(-95.1 695.60 203.66)"/><ellipse cx="694.21" cy="211.38" rx="5.25" ry="2.00" transform="rotate(-164.9 694.21 211.38)"/><ellipse cx="698.06" cy="209.20" rx="3.75" ry="1.60" transform="rotate(-108.9 698.06 209.20)"/><ellipse cx="698.58" cy="217.05" rx="5.25" ry="2.00" transform="rotate(-178.4 698.58 217.05)"/><ellipse cx="701.82" cy="214.03" rx="3.75" ry="1.60" transform="rotate(-122.4 701.82 214.03)"/><ellipse cx="704.20" cy="221.57" rx="5.25" ry="2.00" transform="rotate(-191.7 704.20 221.57)"/><ellipse cx="706.65" cy="217.88" rx="3.75" ry="1.60" transform="rotate(-135.7 706.65 217.88)"/><ellipse cx="710.73" cy="224.67" rx="5.25" ry="2.00" transform="rotate(-204.9 710.73 224.67)"/><ellipse cx="712.29" cy="220.52" rx="3.75" ry="1.60" transform="rotate(-148.9 712.29 220.52)"/><ellipse cx="717.82" cy="226.21" rx="5.25" ry="2.00" transform="rotate(142.1 717.82 226.21)"/><ellipse cx="718.39" cy="221.82" rx="3.75" ry="1.60" transform="rotate(198.1 718.39 221.82)"/><ellipse cx="711.97" cy="172.34" rx="6.25" ry="2.00" transform="rotate(-18.0 711.97 172.34)"/><ellipse cx="734.01" cy="169.41" rx="5.25" ry="2.00" transform="rotate(-112.0 734.01 169.41)"/><ellipse cx="732.31" cy="173.49" rx="3.75" ry="1.60" transform="rotate(-168.0 732.31 173.49)"/><ellipse cx="740.19" cy="173.08" rx="5.25" ry="2.00" transform="rotate(-98.5 740.19 173.08)"/><ellipse cx="737.58" cy="176.66" rx="3.75" ry="1.60" transform="rotate(-154.5 737.58 176.66)"/><ellipse cx="745.31" cy="178.06" rx="5.25" ry="2.00" transform="rotate(-84.8 745.31 178.06)"/><ellipse cx="741.93" cy="180.92" rx="3.75" ry="1.60" transform="rotate(-140.8 741.93 180.92)"/><ellipse cx="749.10" cy="184.07" rx="5.25" ry="2.00" transform="rotate(-70.9 749.10 184.07)"/><ellipse cx="745.13" cy="186.04" rx="3.75" ry="1.60" transform="rotate(-126.9 745.13 186.04)"/><ellipse cx="751.33" cy="190.80" rx="5.25" ry="2.00" transform="rotate(-56.9 751.33 190.80)"/><ellipse cx="747.01" cy="191.74" rx="3.75" ry="1.60" transform="rotate(-112.9 747.01 191.74)"/><ellipse cx="751.87" cy="197.86" rx="5.25" ry="2.00" transform="rotate(-42.9 751.87 197.86)"/><ellipse cx="747.44" cy="197.73" rx="3.75" ry="1.60" transform="rotate(-98.9 747.44 197.73)"/><ellipse cx="750.66" cy="204.85" rx="5.25" ry="2.00" transform="rotate(-28.9 750.66 204.85)"/><ellipse cx="746.40" cy="203.66" rx="3.75" ry="1.60" transform="rotate(-84.9 746.40 203.66)"/><ellipse cx="747.79" cy="211.38" rx="5.25" ry="2.00" transform="rotate(-15.1 747.79 211.38)"/><ellipse cx="743.94" cy="209.20" rx="3.75" ry="1.60" transform="rotate(-71.1 743.94 209.20)"/><ellipse cx="743.42" cy="217.05" rx="5.25" ry="2.00" transform="rotate(-1.6 743.42 217.05)"/><ellipse cx="740.18" cy="214.03" rx="3.75" ry="1.60" transform="rotate(-57.6 740.18 214.03)"/><ellipse cx="737.80" cy="221.57" rx="5.25" ry="2.00" transform="rotate(11.7 737.80 221.57)"/><ellipse cx="735.35" cy="217.88" rx="3.75" ry="1.60" transform="rotate(-44.3 735.35 217.88)"/><ellipse cx="731.27" cy="224.67" rx="5.25" ry="2.00" transform="rotate(24.9 731.27 224.67)"/><ellipse cx="729.71" cy="220.52" rx="3.75" ry="1.60" transform="rotate(-31.1 729.71 220.52)"/><ellipse cx="724.18" cy="226.21" rx="5.25" ry="2.00" transform="rotate(37.9 724.18 226.21)"/><ellipse cx="723.61" cy="221.82" rx="3.75" ry="1.60" transform="rotate(-18.1 723.61 221.82)"/><ellipse cx="730.03" cy="172.34" rx="6.25" ry="2.00" transform="rotate(-162.0 730.03 172.34)"/></g>
<g fill="#34446a"><ellipse cx="170.23" cy="113.94" rx="5.00" ry="1.50" transform="rotate(-63.1 170.23 113.94)"/><ellipse cx="171.34" cy="117.49" rx="3.50" ry="1.30" transform="rotate(-15.1 171.34 117.49)"/><ellipse cx="163.94" cy="117.56" rx="5.00" ry="1.50" transform="rotate(-76.6 163.94 117.56)"/><ellipse cx="165.86" cy="120.75" rx="3.50" ry="1.30" transform="rotate(-28.6 165.86 120.75)"/><ellipse cx="158.70" cy="122.50" rx="5.00" ry="1.50" transform="rotate(-90.3 158.70 122.50)"/><ellipse cx="161.32" cy="125.15" rx="3.50" ry="1.30" transform="rotate(-42.3 161.32 125.15)"/><ellipse cx="154.80" cy="128.52" rx="5.00" ry="1.50" transform="rotate(-104.3 154.80 128.52)"/><ellipse cx="157.98" cy="130.45" rx="3.50" ry="1.30" transform="rotate(-56.3 157.98 130.45)"/><ellipse cx="152.47" cy="135.28" rx="5.00" ry="1.50" transform="rotate(-118.4 152.47 135.28)"/><ellipse cx="156.02" cy="136.38" rx="3.50" ry="1.30" transform="rotate(-70.4 156.02 136.38)"/><ellipse cx="151.86" cy="142.39" rx="5.00" ry="1.50" transform="rotate(-132.6 151.86 142.39)"/><ellipse cx="155.57" cy="142.59" rx="3.50" ry="1.30" transform="rotate(-84.6 155.57 142.59)"/><ellipse cx="153.01" cy="149.45" rx="5.00" ry="1.50" transform="rotate(-146.6 153.01 149.45)"/><ellipse cx="156.66" cy="148.74" rx="3.50" ry="1.30" transform="rotate(-98.6 156.66 148.74)"/><ellipse cx="155.86" cy="156.05" rx="5.00" ry="1.50" transform="rotate(-160.5 155.86 156.05)"/><ellipse cx="159.24" cy="154.49" rx="3.50" ry="1.30" transform="rotate(-112.5 159.24 154.49)"/><ellipse cx="160.24" cy="161.80" rx="5.00" ry="1.50" transform="rotate(-174.1 160.24 161.80)"/><ellipse cx="163.15" cy="159.48" rx="3.50" ry="1.30" transform="rotate(-126.1 163.15 159.48)"/><ellipse cx="165.89" cy="166.37" rx="5.00" ry="1.50" transform="rotate(-187.5 165.89 166.37)"/><ellipse cx="168.18" cy="163.44" rx="3.50" ry="1.30" transform="rotate(-139.5 168.18 163.44)"/><ellipse cx="172.48" cy="169.52" rx="5.00" ry="1.50" transform="rotate(-200.8 172.48 169.52)"/><ellipse cx="174.04" cy="166.14" rx="3.50" ry="1.30" transform="rotate(-152.8 174.04 166.14)"/><ellipse cx="179.63" cy="171.07" rx="5.00" ry="1.50" transform="rotate(146.1 179.63 171.07)"/><ellipse cx="180.38" cy="167.43" rx="3.50" ry="1.30" transform="rotate(194.1 180.38 167.43)"/><ellipse cx="173.22" cy="116.79" rx="5.50" ry="1.50" transform="rotate(-17.1 173.22 116.79)"/><ellipse cx="195.37" cy="113.94" rx="5.00" ry="1.50" transform="rotate(-116.9 195.37 113.94)"/><ellipse cx="194.26" cy="117.49" rx="3.50" ry="1.30" transform="rotate(-164.9 194.26 117.49)"/><ellipse cx="201.66" cy="117.56" rx="5.00" ry="1.50" transform="rotate(-103.4 201.66 117.56)"/><ellipse cx="199.74" cy="120.75" rx="3.50" ry="1.30" transform="rotate(-151.4 199.74 120.75)"/><ellipse cx="206.90" cy="122.50" rx="5.00" ry="1.50" transform="rotate(-89.7 206.90 122.50)"/><ellipse cx="204.28" cy="125.15" rx="3.50" ry="1.30" transform="rotate(-137.7 204.28 125.15)"/><ellipse cx="210.80" cy="128.52" rx="5.00" ry="1.50" transform="rotate(-75.7 210.80 128.52)"/><ellipse cx="207.62" cy="130.45" rx="3.50" ry="1.30" transform="rotate(-123.7 207.62 130.45)"/><ellipse cx="213.13" cy="135.28" rx="5.00" ry="1.50" transform="rotate(-61.6 213.13 135.28)"/><ellipse cx="209.58" cy="136.38" rx="3.50" ry="1.30" transform="rotate(-109.6 209.58 136.38)"/><ellipse cx="213.74" cy="142.39" rx="5.00" ry="1.50" transform="rotate(-47.4 213.74 142.39)"/><ellipse cx="210.03" cy="142.59" rx="3.50" ry="1.30" transform="rotate(-95.4 210.03 142.59)"/><ellipse cx="212.59" cy="149.45" rx="5.00" ry="1.50" transform="rotate(-33.4 212.59 149.45)"/><ellipse cx="208.94" cy="148.74" rx="3.50" ry="1.30" transform="rotate(-81.4 208.94 148.74)"/><ellipse cx="209.74" cy="156.05" rx="5.00" ry="1.50" transform="rotate(-19.5 209.74 156.05)"/><ellipse cx="206.36" cy="154.49" rx="3.50" ry="1.30" transform="rotate(-67.5 206.36 154.49)"/><ellipse cx="205.36" cy="161.80" rx="5.00" ry="1.50" transform="rotate(-5.9 205.36 161.80)"/><ellipse cx="202.45" cy="159.48" rx="3.50" ry="1.30" transform="rotate(-53.9 202.45 159.48)"/><ellipse cx="199.71" cy="166.37" rx="5.00" ry="1.50" transform="rotate(7.5 199.71 166.37)"/><ellipse cx="197.42" cy="163.44" rx="3.50" ry="1.30" transform="rotate(-40.5 197.42 163.44)"/><ellipse cx="193.12" cy="169.52" rx="5.00" ry="1.50" transform="rotate(20.8 193.12 169.52)"/><ellipse cx="191.56" cy="166.14" rx="3.50" ry="1.30" transform="rotate(-27.2 191.56 166.14)"/><ellipse cx="185.97" cy="171.07" rx="5.00" ry="1.50" transform="rotate(33.9 185.97 171.07)"/><ellipse cx="185.22" cy="167.43" rx="3.50" ry="1.30" transform="rotate(-14.1 185.22 167.43)"/><ellipse cx="192.38" cy="116.79" rx="5.50" ry="1.50" transform="rotate(-162.9 192.38 116.79)"/></g><g fill="url(#goldwreath)"><ellipse cx="168.93" cy="112.64" rx="5.00" ry="1.50" transform="rotate(-63.1 168.93 112.64)"/><ellipse cx="170.04" cy="116.19" rx="3.50" ry="1.30" transform="rotate(-15.1 170.04 116.19)"/><ellipse cx="162.64" cy="116.26" rx="5.00" ry="1.50" transform="rotate(-76.6 162.64 116.26)"/><ellipse cx="164.56" cy="119.45" rx="3.50" ry="1.30" transform="rotate(-28.6 164.56 119.45)"/><ellipse cx="157.40" cy="121.20" rx="5.00" ry="1.50" transform="rotate(-90.3 157.40 121.20)"/><ellipse cx="160.02" cy="123.85" rx="3.50" ry="1.30" transform="rotate(-42.3 160.02 123.85)"/><ellipse cx="153.50" cy="127.22" rx="5.00" ry="1.50" transform="rotate(-104.3 153.50 127.22)"/><ellipse cx="156.68" cy="129.15" rx="3.50" ry="1.30" transform="rotate(-56.3 156.68 129.15)"/><ellipse cx="151.17" cy="133.98" rx="5.00" ry="1.50" transform="rotate(-118.4 151.17 133.98)"/><ellipse cx="154.72" cy="135.08" rx="3.50" ry="1.30" transform="rotate(-70.4 154.72 135.08)"/><ellipse cx="150.56" cy="141.09" rx="5.00" ry="1.50" transform="rotate(-132.6 150.56 141.09)"/><ellipse cx="154.27" cy="141.29" rx="3.50" ry="1.30" transform="rotate(-84.6 154.27 141.29)"/><ellipse cx="151.71" cy="148.15" rx="5.00" ry="1.50" transform="rotate(-146.6 151.71 148.15)"/><ellipse cx="155.36" cy="147.44" rx="3.50" ry="1.30" transform="rotate(-98.6 155.36 147.44)"/><ellipse cx="154.56" cy="154.75" rx="5.00" ry="1.50" transform="rotate(-160.5 154.56 154.75)"/><ellipse cx="157.94" cy="153.19" rx="3.50" ry="1.30" transform="rotate(-112.5 157.94 153.19)"/><ellipse cx="158.94" cy="160.50" rx="5.00" ry="1.50" transform="rotate(-174.1 158.94 160.50)"/><ellipse cx="161.85" cy="158.18" rx="3.50" ry="1.30" transform="rotate(-126.1 161.85 158.18)"/><ellipse cx="164.59" cy="165.07" rx="5.00" ry="1.50" transform="rotate(-187.5 164.59 165.07)"/><ellipse cx="166.88" cy="162.14" rx="3.50" ry="1.30" transform="rotate(-139.5 166.88 162.14)"/><ellipse cx="171.18" cy="168.22" rx="5.00" ry="1.50" transform="rotate(-200.8 171.18 168.22)"/><ellipse cx="172.74" cy="164.84" rx="3.50" ry="1.30" transform="rotate(-152.8 172.74 164.84)"/><ellipse cx="178.33" cy="169.77" rx="5.00" ry="1.50" transform="rotate(146.1 178.33 169.77)"/><ellipse cx="179.08" cy="166.13" rx="3.50" ry="1.30" transform="rotate(194.1 179.08 166.13)"/><ellipse cx="171.92" cy="115.49" rx="5.50" ry="1.50" transform="rotate(-17.1 171.92 115.49)"/><ellipse cx="194.07" cy="112.64" rx="5.00" ry="1.50" transform="rotate(-116.9 194.07 112.64)"/><ellipse cx="192.96" cy="116.19" rx="3.50" ry="1.30" transform="rotate(-164.9 192.96 116.19)"/><ellipse cx="200.36" cy="116.26" rx="5.00" ry="1.50" transform="rotate(-103.4 200.36 116.26)"/><ellipse cx="198.44" cy="119.45" rx="3.50" ry="1.30" transform="rotate(-151.4 198.44 119.45)"/><ellipse cx="205.60" cy="121.20" rx="5.00" ry="1.50" transform="rotate(-89.7 205.60 121.20)"/><ellipse cx="202.98" cy="123.85" rx="3.50" ry="1.30" transform="rotate(-137.7 202.98 123.85)"/><ellipse cx="209.50" cy="127.22" rx="5.00" ry="1.50" transform="rotate(-75.7 209.50 127.22)"/><ellipse cx="206.32" cy="129.15" rx="3.50" ry="1.30" transform="rotate(-123.7 206.32 129.15)"/><ellipse cx="211.83" cy="133.98" rx="5.00" ry="1.50" transform="rotate(-61.6 211.83 133.98)"/><ellipse cx="208.28" cy="135.08" rx="3.50" ry="1.30" transform="rotate(-109.6 208.28 135.08)"/><ellipse cx="212.44" cy="141.09" rx="5.00" ry="1.50" transform="rotate(-47.4 212.44 141.09)"/><ellipse cx="208.73" cy="141.29" rx="3.50" ry="1.30" transform="rotate(-95.4 208.73 141.29)"/><ellipse cx="211.29" cy="148.15" rx="5.00" ry="1.50" transform="rotate(-33.4 211.29 148.15)"/><ellipse cx="207.64" cy="147.44" rx="3.50" ry="1.30" transform="rotate(-81.4 207.64 147.44)"/><ellipse cx="208.44" cy="154.75" rx="5.00" ry="1.50" transform="rotate(-19.5 208.44 154.75)"/><ellipse cx="205.06" cy="153.19" rx="3.50" ry="1.30" transform="rotate(-67.5 205.06 153.19)"/><ellipse cx="204.06" cy="160.50" rx="5.00" ry="1.50" transform="rotate(-5.9 204.06 160.50)"/><ellipse cx="201.15" cy="158.18" rx="3.50" ry="1.30" transform="rotate(-53.9 201.15 158.18)"/><ellipse cx="198.41" cy="165.07" rx="5.00" ry="1.50" transform="rotate(7.5 198.41 165.07)"/><ellipse cx="196.12" cy="162.14" rx="3.50" ry="1.30" transform="rotate(-40.5 196.12 162.14)"/><ellipse cx="191.82" cy="168.22" rx="5.00" ry="1.50" transform="rotate(20.8 191.82 168.22)"/><ellipse cx="190.26" cy="164.84" rx="3.50" ry="1.30" transform="rotate(-27.2 190.26 164.84)"/><ellipse cx="184.67" cy="169.77" rx="5.00" ry="1.50" transform="rotate(33.9 184.67 169.77)"/><ellipse cx="183.92" cy="166.13" rx="3.50" ry="1.30" transform="rotate(-14.1 183.92 166.13)"/><ellipse cx="191.08" cy="115.49" rx="5.50" ry="1.50" transform="rotate(-162.9 191.08 115.49)"/></g>
<path d="M428.20,61.00 L425.90,50.00 L431.20,51.20 L436.50,50.00 L434.20,61.00Z M431.20,58.00 L442.20,55.70 L441.00,61.00 L442.20,66.30 L431.20,64.00Z M434.20,61.00 L436.50,72.00 L431.20,70.80 L425.90,72.00 L428.20,61.00Z M431.20,64.00 L420.20,66.30 L421.40,61.00 L420.20,55.70 L431.20,58.00Z" fill="url(#goldcross)" /><circle cx="431.2" cy="61" r="3.30" fill="url(#goldcross)"/><circle cx="431.2" cy="61" r="3.9" fill="#d8242c"/>
<path d="M281.00,146.00 L278.70,135.00 L284.00,136.20 L289.30,135.00 L287.00,146.00Z M284.00,143.00 L295.00,140.70 L293.80,146.00 L295.00,151.30 L284.00,149.00Z M287.00,146.00 L289.30,157.00 L284.00,155.80 L278.70,157.00 L281.00,146.00Z M284.00,149.00 L273.00,151.30 L274.20,146.00 L273.00,140.70 L284.00,143.00Z" fill="url(#goldcross)" /><circle cx="284" cy="146" r="3.30" fill="url(#goldcross)"/>
<path d="M281.00,202.00 L278.70,191.00 L284.00,192.20 L289.30,191.00 L287.00,202.00Z M284.00,199.00 L295.00,196.70 L293.80,202.00 L295.00,207.30 L284.00,205.00Z M287.00,202.00 L289.30,213.00 L284.00,211.80 L278.70,213.00 L281.00,202.00Z M284.00,205.00 L273.00,207.30 L274.20,202.00 L273.00,196.70 L284.00,199.00Z" fill="url(#silvercross)" /><circle cx="284" cy="202" r="3.30" fill="url(#silvercross)"/>
<path d="M215.6,178.5 Q216.5,176.6 218.6,177 Q220.6,177.8 220.8,181 L220.8,216 Q220.6,219.2 218.4,219.3 Q216,219 215.6,216.5 Z" fill="url(#goldbar)"/>
<g stroke="#8a6418" stroke-width="0.9" opacity="0.75"><line x1="215.8" y1="186" x2="220.6" y2="192"/><line x1="215.8" y1="204" x2="220.6" y2="211"/></g>
<rect x="215.2" y="233.6" width="5.8" height="42" fill="#d0202c"/>
<rect x="215.2" y="290" width="5.8" height="42" fill="#1ea6e2"/>
<path d="M116,263 Q116.8,261 118.8,261.4 Q121.4,262.4 121.6,266 L121.6,299 Q121.4,302.8 119.2,303 Q116.6,302.6 116,300 Z" fill="url(#silverbar)"/>
<rect x="413.5" y="233.2" width="5.2" height="42.6" fill="#80b848"/>
<rect x="512.5" y="233.6" width="5.2" height="42.2" fill="#ffffff"/>
<rect x="752.2" y="233.6" width="5.2" height="41" fill="#8a2c9c"/>
<path d="M404.1,334.4 C404.97,321.87 408.01,316.50 414.95,316.5 C421.89,316.50 424.93,321.87 425.8,334.4 Z" fill="#8cc43c" stroke="#2a3a6a" stroke-width="0.7"/>
<path d="M503.5,334.4 C504.40,321.87 507.55,316.50 514.75,316.5 C521.95,316.50 525.10,321.87 526,334.4 Z" fill="#ffffff" stroke="#2a3a6a" stroke-width="0.7"/>
<path d="M601,334.4 C601.92,321.87 605.14,316.50 612.50,316.5 C619.86,316.50 623.08,321.87 624,334.4 Z" fill="#8a2a9a" stroke="#2a3a6a" stroke-width="0.7"/>
<path d="M108.2,361.3 C107.6,352 111,344.6 117.2,344.4 C121,344.4 125.5,350 129.8,360.2 L128.6,361.3 Z" fill="url(#silverdome)" stroke="#3a4050" stroke-width="0.7"/>
<path d="M107.9,418.3 C108.7,410.6 110.4,406.6 114.9,406.6 L122.4,406.6 C126.9,406.6 128.6,410.6 129.4,418.3 Z" fill="#1e4290"/><path d="M114.05000000000001,412.6 A4.6,4.6 0 0,1 123.25,412.6" fill="none" stroke="#ffffff" stroke-width="1.9"/><rect x="112.85000000000001" y="412.1" width="11.6" height="1.2" fill="#ffffff"/><circle cx="118.65" cy="412.0" r="1.8" fill="#1a2a70"/><rect x="113.05000000000001" y="414.3" width="11.2" height="1.6" fill="#ffffff"/><line x1="113.28" y1="409.50" x2="111.90" y2="408.70" stroke="#fff" stroke-width="1"/><line x1="115.55" y1="407.23" x2="114.75" y2="405.85" stroke="#fff" stroke-width="1"/><line x1="118.65" y1="406.40" x2="118.65" y2="404.80" stroke="#fff" stroke-width="1"/><line x1="121.75" y1="407.23" x2="122.55" y2="405.85" stroke="#fff" stroke-width="1"/><line x1="124.02" y1="409.50" x2="125.40" y2="408.70" stroke="#fff" stroke-width="1"/>
<path d="M207.4,418.3 C208.20000000000002,410.6 209.9,406.6 214.4,406.6 L221.9,406.6 C226.4,406.6 228.1,410.6 228.9,418.3 Z" fill="#1e4290"/><path d="M213.55,412.6 A4.6,4.6 0 0,1 222.75,412.6" fill="none" stroke="#ffffff" stroke-width="1.9"/><rect x="212.35" y="412.1" width="11.6" height="1.2" fill="#ffffff"/><circle cx="218.15" cy="412.0" r="1.8" fill="#1a2a70"/><rect x="212.55" y="414.3" width="11.2" height="1.6" fill="#ffffff"/>
<path d="M306.4,418.3 C307.2,410.6 308.9,406.6 313.4,406.6 L320.9,406.6 C325.4,406.6 327.09999999999997,410.6 327.9,418.3 Z" fill="#1e4290"/><path d="M313.54999999999995,412.6 A3.6,3.6 0 0,1 320.75,412.6" fill="none" stroke="#d02040" stroke-width="1.4"/><path d="M312.54999999999995,412.6 A4.6,4.6 0 0,1 321.75,412.6" fill="none" stroke="#ffffff" stroke-width="1.9"/><rect x="311.34999999999997" y="412.1" width="11.6" height="1.2" fill="#ffffff"/><circle cx="317.15" cy="412.0" r="1.8" fill="#1a2a70"/><rect x="311.54999999999995" y="414.3" width="11.2" height="1.6" fill="#ffffff"/>
<g fill="#f8f8f8"><ellipse cx="690.6" cy="137.5" rx="10.4" ry="9.8"/><rect x="683.5" y="141" width="14" height="12" rx="2"/></g>
<g fill="#1a1a1a"><ellipse cx="686.2" cy="142" rx="3.5" ry="2.8"/><ellipse cx="695" cy="142" rx="3.5" ry="2.8"/><path d="M690.6,145 l-1,2.2 h2z"/><rect x="685" y="148.6" width="11" height="0.6"/><rect x="688" y="148.6" width="0.6" height="4.5"/><rect x="691" y="148.6" width="0.6" height="4.5"/><rect x="694" y="148.6" width="0.6" height="4.5"/></g>
<path d="M682.8,481.6 L689.5,471 L762.5,471 L769.6,481.6 L762.5,492.2 L689.5,492.2 Z" fill="#ffffff" stroke="#2b2b7c" stroke-width="0.9"/>
<g fill="#2b2b7c"><path d="M690,474.4 H713 V477.9 H688.3Z"/><path d="M738,474.4 H762 L763.6,477.9 H738Z"/><rect x="685.8" y="480.3" width="27" height="3.7"/><rect x="738" y="480.3" width="28" height="3.7"/><path d="M688.3,486.2 H713 V489.8 H690Z"/><path d="M738,486.2 H763.6 L762,489.8 H738Z"/></g>
<circle cx="725.6" cy="482.0" r="12.7" fill="#ffffff"/><circle cx="725.6" cy="482.0" r="11.1" fill="#2b2b7c"/>
<path d="M715.8,485.2 A9.8,9.8 0 0,1 735.4,485.2 Z" fill="#ffffff"/><path d="M721,485.2 A4.6,4.6 0 0,1 730.2,485.2 Z" fill="#2b2b7c"/>
<rect x="716.2" y="486.7" width="18.8" height="2.5" fill="#ffffff"/>
<text transform="translate(184.25,201.60) scale(0.99,1.05)" fill="#ffffff" font-size="12.5" stroke="#2957ad" stroke-width="0.22">Centurio</text>
<text transform="translate(184.25,258.20) scale(0.99,1.05)" fill="#ffffff" font-size="12.5" stroke="#2957ad" stroke-width="0.22">Optio</text>
<text transform="translate(184.25,314.60) scale(0.99,1.05)" fill="#ffffff" font-size="12.5" stroke="#2957ad" stroke-width="0.22">Decurio</text>
<text transform="translate(85.25,285.10) scale(0.99,1.05)" fill="#ffffff" font-size="12.5" stroke="#2957ad" stroke-width="0.22">Aquilifer</text>
<text transform="translate(85.25,341.70) scale(0.99,1.05)" fill="#ffffff" font-size="12.5" stroke="#2957ad" stroke-width="0.22">Signifer</text>
<text transform="translate(283.25,166.80) scale(0.99,1.05)" fill="#ffffff" font-size="12.5" stroke="#2957ad" stroke-width="0.22">Legionarius</text>
<text transform="translate(283.25,181.10) scale(0.99,1.05)" fill="#ffffff" font-size="12.5" stroke="#2957ad" stroke-width="0.22">Terminatus</text>
<text transform="translate(283.25,223.50) scale(0.99,1.05)" fill="#ffffff" font-size="12.5" stroke="#2957ad" stroke-width="0.22">Legionarius</text>
<text transform="translate(283.25,237.80) scale(0.99,1.05)" fill="#ffffff" font-size="12.5" stroke="#2957ad" stroke-width="0.22">Triarius</text>
<text transform="translate(382.25,195.00) scale(0.99,1.05)" fill="#ffffff" font-size="12.5">Tecnicus</text>
<text transform="translate(382.25,209.30) scale(0.99,1.05)" fill="#ffffff" font-size="12.5">Primus</text>
<text transform="translate(382.25,258.20) scale(0.99,1.05)" fill="#ffffff" font-size="12.5" stroke="#2957ad" stroke-width="0.22">Tecnicus</text>
<text transform="translate(382.25,314.60) scale(0.99,1.05)" fill="#ffffff" font-size="12.5" stroke="#2957ad" stroke-width="0.22">Mecanicus</text>
<text transform="translate(481.25,195.00) scale(0.99,1.05)" fill="#ffffff" font-size="12.5">Apothecarius</text>
<text transform="translate(481.25,209.30) scale(0.99,1.05)" fill="#ffffff" font-size="12.5">Primus</text>
<text transform="translate(481.25,258.20) scale(0.99,1.05)" fill="#ffffff" font-size="12.5" stroke="#2957ad" stroke-width="0.22">Apothecarius</text>
<text transform="translate(481.25,314.60) scale(0.99,1.05)" fill="#ffffff" font-size="12.5" stroke="#2957ad" stroke-width="0.22">Medicus</text>
<text transform="translate(579.75,314.60) scale(0.99,1.05)" fill="#ffffff" font-size="12.5" stroke="#2957ad" stroke-width="0.22">Scribus</text>
<text transform="translate(720.75,195.00) scale(0.99,1.05)" fill="#ffffff" font-size="12.5">Librarius</text>
<text transform="translate(720.75,209.30) scale(0.99,1.05)" fill="#ffffff" font-size="12.5">Primus</text>
<text transform="translate(720.75,258.20) scale(0.99,1.05)" fill="#ffffff" font-size="12.5" stroke="#2957ad" stroke-width="0.22">Librarius</text>
<text transform="translate(85.25,392.60) scale(0.99,1.05)" fill="#ffffff" font-size="12.5" stroke="#2957ad" stroke-width="0.22">Legionarius</text>
<text transform="translate(85.25,406.90) scale(0.99,1.05)" fill="#ffffff" font-size="12.5" stroke="#2957ad" stroke-width="0.22">Gravis</text>
<text transform="translate(184.25,392.60) scale(0.99,1.05)" fill="#ffffff" font-size="12.5" stroke="#2957ad" stroke-width="0.22">Legionarius</text>
<text transform="translate(184.25,406.90) scale(0.99,1.05)" fill="#ffffff" font-size="12.5" stroke="#2957ad" stroke-width="0.22">Dedicatus</text>
<text transform="translate(283.25,392.60) scale(0.99,1.05)" fill="#ffffff" font-size="12.5" stroke="#2957ad" stroke-width="0.22">Legionarius</text>
<text transform="translate(283.25,406.90) scale(0.99,1.05)" fill="#ffffff" font-size="12.5" stroke="#2957ad" stroke-width="0.22">Celeris</text>
<text transform="translate(184.25,449.10) scale(0.99,1.05)" fill="#ffffff" font-size="12.5" stroke="#2957ad" stroke-width="0.22">Legionarius</text>
<text transform="translate(184.25,463.40) scale(0.99,1.05)" fill="#ffffff" font-size="12.5" stroke="#2957ad" stroke-width="0.22">Initiatus</text>
<text transform="translate(579.75,195.00) scale(0.99,1.05)" fill="#ffffff" font-size="12.5">Archivarus</text>
<text transform="translate(579.75,209.30) scale(0.99,1.05)" fill="#ffffff" font-size="12.5">Primus</text>
<text transform="translate(579.75,258.20) scale(0.99,1.05)" fill="#ffffff" font-size="12.5" stroke="#8f2a96" stroke-width="0.22">Archivarius</text>
<text transform="translate(649.75,143.90) scale(0.99,1.05)" fill="#e6e6e6" font-size="12.5" stroke="#1e1a1a" stroke-width="0.22">Pontifex</text>
<text transform="translate(184.25,144.90) scale(0.99,1.05)" fill="#2d4a78" font-size="12.5">Legatus</text>
<text transform="translate(382.25,392.60) scale(0.99,1.05)" fill="#f0f2f4" font-size="12.5" stroke="#9bb0c3" stroke-width="0.22">Servitus</text>
<text transform="translate(382.25,406.90) scale(0.99,1.05)" fill="#f0f2f4" font-size="12.5" stroke="#9bb0c3" stroke-width="0.22">Tecnicus</text>
<text transform="translate(481.25,392.60) scale(0.99,1.05)" fill="#f0f2f4" font-size="12.5" stroke="#9bb0c3" stroke-width="0.22">Servitus</text>
<text transform="translate(481.25,406.90) scale(0.99,1.05)" fill="#f0f2f4" font-size="12.5" stroke="#9bb0c3" stroke-width="0.22">Apothecarius</text>
<text transform="translate(579.75,392.60) scale(0.99,1.05)" fill="#f0f2f4" font-size="12.5" stroke="#9bb0c3" stroke-width="0.22">Servitus</text>
<text transform="translate(579.75,406.90) scale(0.99,1.05)" fill="#f0f2f4" font-size="12.5" stroke="#9bb0c3" stroke-width="0.22">Archivarus</text>
<text transform="translate(481.25,455.70) scale(0.99,1.05)" fill="#f0f2f4" font-size="12.5" stroke="#9bb0c3" stroke-width="0.22">Servitus</text>
<text transform="translate(184.25,512.10) scale(0.99,1.05)" fill="#f0f2f4" font-size="12.5" stroke="#9bb0c3" stroke-width="0.22">Novicius</text>
<text transform="translate(431.15,82.20) scale(0.99,1.05)" fill="#ece85c" font-size="12.5" stroke="#2957ad" stroke-width="0.22">Dominus</text>
<text transform="translate(431.15,96.50) scale(0.99,1.05)" fill="#ece85c" font-size="12.5" stroke="#2957ad" stroke-width="0.22">Legio</text>
<text x="726" y="466.3" font-size="9.2" fill="#28307a" stroke="#28307a" stroke-width="0.2" style="font-family:'Liberation Serif',serif">LEGIO-OMEGA</text>
<text transform="translate(725.6,509) scale(0.97,1)" font-size="13.9" fill="#262c7a" stroke="#262c7a" stroke-width="0.12" style="font-family:'Liberation Serif',serif;font-weight:normal">SECRETUM</text>
<text transform="translate(725.4,522.2) scale(0.97,1)" font-size="13.9" fill="#262c7a" stroke="#262c7a" stroke-width="0.12" style="font-family:'Liberation Serif',serif;font-weight:normal">MAXIMUM</text>
<text transform="translate(3.9,504) rotate(90)" font-size="7" letter-spacing="0.25" fill="#3c413f">© 2010, Markus Stöll</text>
</svg></body></html>
